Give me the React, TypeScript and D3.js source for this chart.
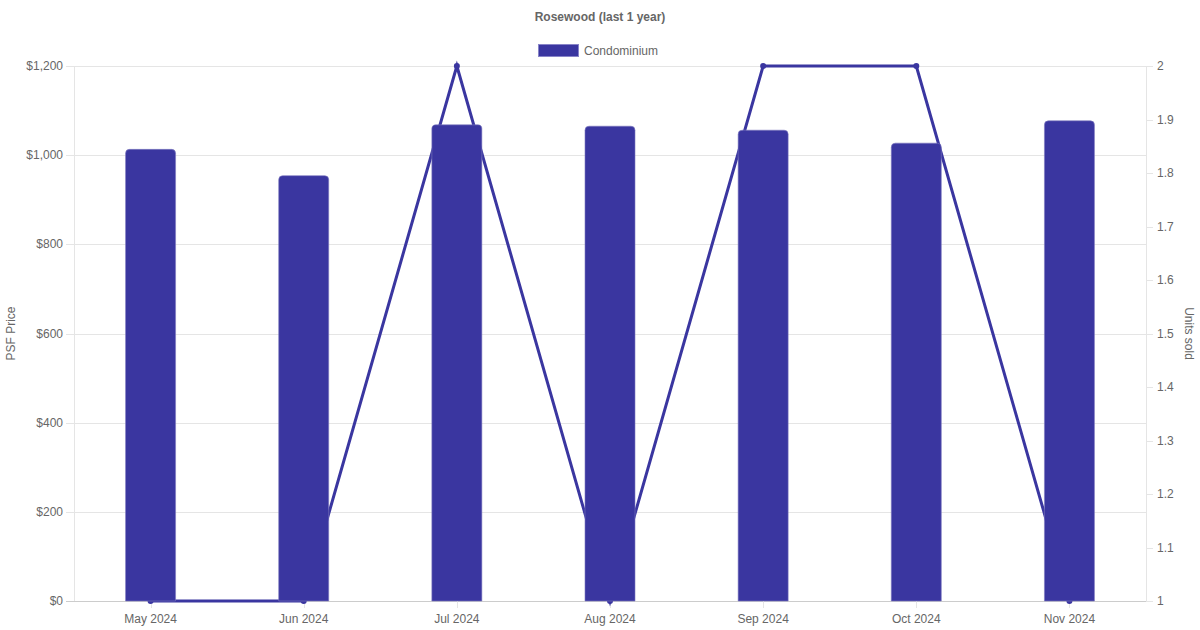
import React from "react";
import * as d3 from "d3";

const categories = ["May 2024", "Jun 2024", "Jul 2024", "Aug 2024", "Sep 2024", "Oct 2024", "Nov 2024"];
const psfPrice = [1013, 954, 1068, 1065, 1056, 1027, 1077];
const unitsSold = [1, 1, 2, 1, 2, 2, 1];
const leftTicks = [0, 200, 400, 600, 800, 1000, 1200];
const rightTicks = [1, 1.1, 1.2, 1.3, 1.4, 1.5, 1.6, 1.7, 1.8, 1.9, 2];

const W = 1200, H = 630;
const M = { left: 74, right: 1146, top: 66, bottom: 601 };
const COLOR = "#3a36a0";
const TXT = "#666";
const FONT = "'Liberation Sans', Arial, Helvetica, sans-serif";

export default function App() {
  const x = d3.scaleBand<string>().domain(categories).range([M.left, M.right]);
  const yL = d3.scaleLinear().domain([0, 1200]).range([M.bottom, M.top]);
  const yR = d3.scaleLinear().domain([1, 2]).range([M.bottom, M.top]);
  const barW = 50;
  const cx = (c: string) => (x(c) as number) + x.bandwidth() / 2;
  const line = d3.line<number>().x((_, i) => cx(categories[i])).y((d) => yR(d));
  const r = 4;
  const barPath = (x0: number, y0: number, w: number, h: number) =>
    `M${x0},${y0 + h}V${y0 + r}Q${x0},${y0} ${x0 + r},${y0}H${x0 + w - r}Q${x0 + w},${y0} ${x0 + w},${y0 + r}V${y0 + h}Z`;

  return (
    <svg width={W} height={H} style={{ position: "absolute", left: 0, top: 0, background: "#fff" }} fontFamily={FONT}>
      <text x={600} y={21} textAnchor="middle" fontSize={12} fontWeight="bold" fill={TXT}>Rosewood (last 1 year)</text>
      <rect x={538.5} y={44.5} width={40} height={12} fill={COLOR} stroke="#8884c8" strokeWidth={1} />
      <text x={584} y={54.5} fontSize={12} fill={TXT}>Condominium</text>

      {leftTicks.map((t) => (
        <g key={t}>
          <line x1={M.left - 8} x2={M.right} y1={Math.round(yL(t)) + 0.5} y2={Math.round(yL(t)) + 0.5}
            stroke={t === 0 ? "#ccc" : "#e5e5e5"} strokeWidth={1} />
          <text x={M.left - 11} y={yL(t) + 4} textAnchor="end" fontSize={12} fill={TXT}>
            {d3.format("$,")(t)}
          </text>
        </g>
      ))}
      <line x1={M.left + 0.5} x2={M.left + 0.5} y1={M.top} y2={M.bottom} stroke="#e5e5e5" />
      <line x1={M.right + 0.5} x2={M.right + 0.5} y1={M.top} y2={M.bottom} stroke="#e5e5e5" />
      {rightTicks.map((t) => (
        <g key={t}>
          <line x1={M.right} x2={M.right + 7} y1={Math.round(yR(t)) + 0.5} y2={Math.round(yR(t)) + 0.5} stroke="#e5e5e5" />
          <text x={M.right + 11} y={yR(t) + 4} fontSize={12} fill={TXT}>{d3.format("~g")(t)}</text>
        </g>
      ))}
      {categories.map((c) => (
        <g key={c}>
          <line x1={Math.round(cx(c)) + 0.5} x2={Math.round(cx(c)) + 0.5} y1={M.bottom} y2={M.bottom + 7} stroke="#e5e5e5" />
          <text x={cx(c)} y={623} textAnchor="middle" fontSize={12} fill={TXT}>{c}</text>
        </g>
      ))}
      <text transform={`translate(15,${(M.top + M.bottom) / 2}) rotate(-90)`} textAnchor="middle" fontSize={12} fill={TXT}>PSF Price</text>
      <text transform={`translate(1185,${(M.top + M.bottom) / 2}) rotate(90)`} textAnchor="middle" fontSize={12} fill={TXT}>Units sold</text>

      <path d={line(unitsSold) || ""} fill="none" stroke={COLOR} strokeWidth={3} />
      {unitsSold.map((u, i) => (
        <circle key={i} cx={cx(categories[i])} cy={yR(u)} r={3} fill={COLOR} />
      ))}
      {psfPrice.map((v, i) => {
        const x0 = cx(categories[i]) - barW / 2;
        const y0 = yL(v);
        return <path key={i} d={barPath(x0, y0, barW, M.bottom - y0)} fill={COLOR} stroke="#7d79c0" strokeWidth={0.6} />;
      })}
    </svg>
  );
}
